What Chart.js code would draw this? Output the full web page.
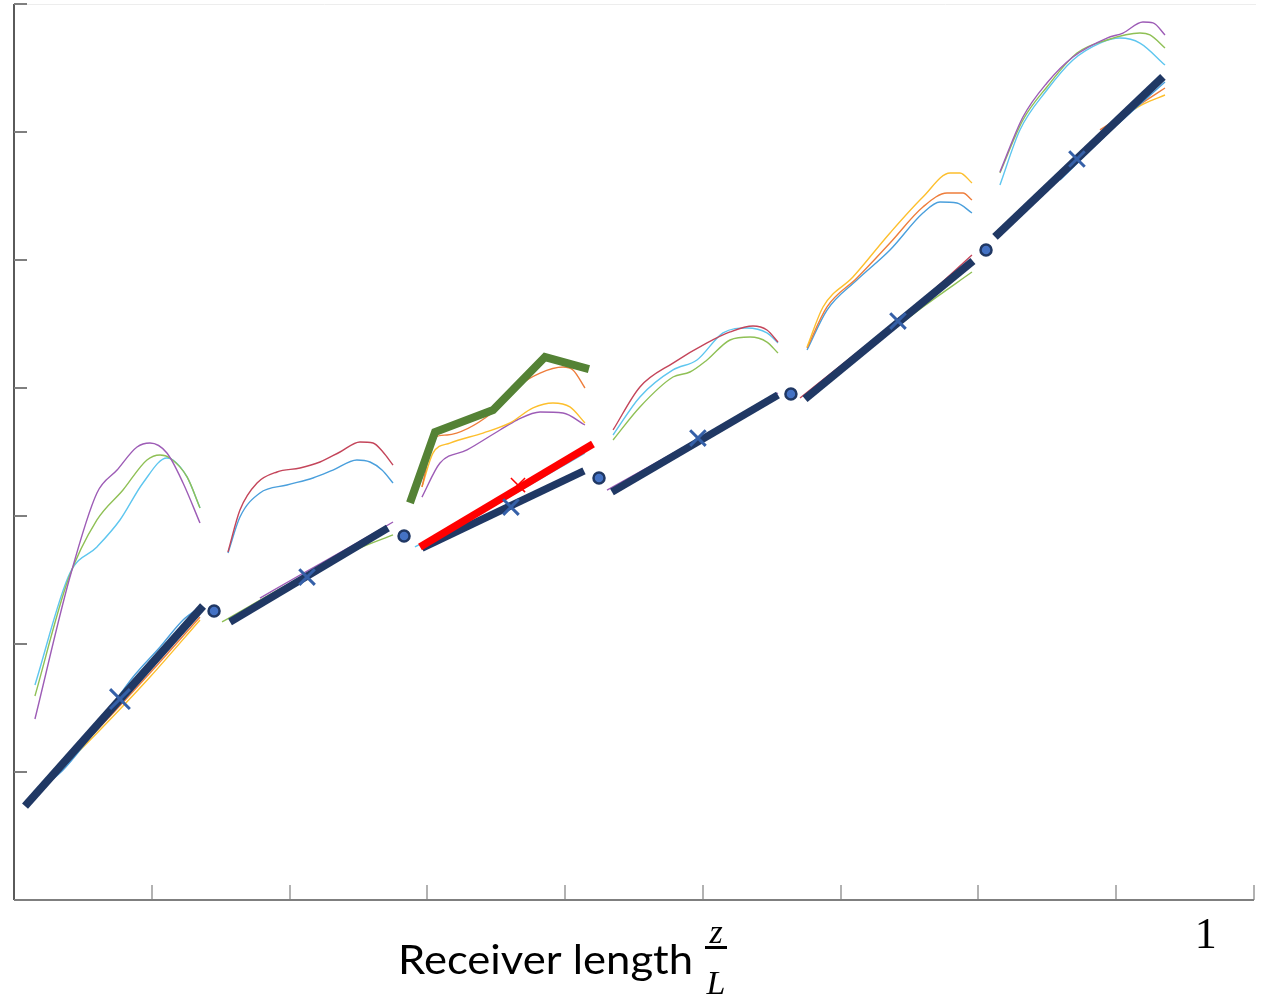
<!DOCTYPE html>
<html>
<head>
<meta charset="utf-8">
<script src="https://cdn.jsdelivr.net/npm/chart.js@4/dist/chart.umd.min.js"></script>
<style>
html,body{margin:0;padding:0;background:#fff;}
#wrap{width:1265px;height:997px;position:relative;}
</style>
</head>
<body>
<div id="wrap"><canvas id="c" width="1265" height="997"></canvas></div>
<script>
// ---- axis ticks (data units) ----
const xTicks = [1,2,3,4,5,6,7,8,9];
const yTicks = [1,2,3,4,5,6,7];
const xLabelOne = 8.65;   // position of the "1" label along x

// ---- thick model segments (navy) ----
const navy1 = [[0.080,0.734],[1.372,2.297]];
const navy2 = [[1.568,2.172],[2.714,2.906]];
const navy3 = [[2.961,2.750],[4.137,3.352]];
const navy4 = [[4.340,3.188],[5.545,3.945]];
const navy5 = [[5.741,3.914],[6.960,4.992]];
const navy6 = [[7.120,5.180],[8.339,6.430]];

// ---- node dots ----
const nodeX = [1.452,2.831,4.246,5.639,7.055];
const nodeY = [2.258,2.844,3.297,3.953,5.078];

// ---- X markers ----
const crossX = [0.769,2.127,3.607,4.964,6.416,7.715];
const crossY = [1.570,2.523,3.070,3.609,4.523,5.789];

// ---- red segment + red marker ----
const redSeg = [[2.947,2.758],[4.202,3.563]];
const redCross = [[3.658,3.242]];

// ---- green thick polyline ----
const greenPoly = [[2.874,3.102],[3.056,3.656],[3.477,3.828],[3.854,4.242],[4.173,4.148]];

// ---- thin curves, section 1 ----
const s1Purple = [[0.152,1.414],[0.406,2.523],[0.602,3.180],[0.748,3.359],[0.893,3.539],[0.987,3.570],[1.110,3.492],[1.227,3.258],[1.350,2.945]];
const s1Green  = [[0.152,1.594],[0.392,2.500],[0.602,2.969],[0.791,3.203],[0.965,3.438],[1.060,3.477],[1.132,3.453],[1.256,3.305],[1.350,3.063]];
const s1Cyan   = [[0.152,1.680],[0.406,2.555],[0.602,2.758],[0.769,2.969],[0.936,3.258],[1.110,3.453],[1.154,3.438],[1.256,3.305],[1.350,3.063]];
const s1Blue   = [[0.210,0.883],[0.356,1.016],[0.552,1.273],[0.864,1.742],[1.060,1.977],[1.227,2.188],[1.350,2.289]];
const s1Orange = [[0.116,0.805],[0.624,1.352],[0.987,1.773],[1.350,2.211]];
const s1Yellow = [[0.116,0.781],[0.624,1.328],[0.987,1.742],[1.350,2.188]];

// ---- section 2 ----
const s2Crimson = [[1.553,2.719],[1.640,3.047],[1.764,3.258],[1.909,3.344],[2.076,3.375],[2.221,3.422],[2.366,3.500],[2.511,3.578],[2.606,3.570],[2.678,3.500],[2.751,3.398]];
const s2Blue    = [[1.553,2.711],[1.640,2.992],[1.785,3.180],[1.981,3.242],[2.170,3.297],[2.315,3.359],[2.489,3.438],[2.584,3.422],[2.671,3.359],[2.751,3.258]];
const s2Purple  = [[1.785,2.359],[2.076,2.539],[2.439,2.758],[2.751,2.953]];
const s2Green   = [[1.510,2.172],[2.076,2.516],[2.511,2.750],[2.751,2.852]];

// ---- section 3 ----
const s3Orange = [[2.961,3.227],[3.056,3.617],[3.143,3.633],[3.469,3.805],[3.651,4.008],[3.818,4.117],[3.985,4.164],[4.057,4.141],[4.144,4.000]];
const s3Yellow = [[2.961,3.227],[3.041,3.492],[3.164,3.570],[3.404,3.648],[3.600,3.727],[3.767,3.844],[3.912,3.883],[4.035,3.852],[4.144,3.727]];
const s3Purple = [[2.961,3.148],[3.092,3.414],[3.288,3.516],[3.527,3.672],[3.651,3.750],[3.818,3.813],[3.985,3.805],[4.144,3.711]];
const s3Cyan   = [[2.910,2.758],[3.527,3.109],[4.144,3.492]];

// ---- section 4 ----
const s4Crimson = [[4.348,3.672],[4.543,4.008],[4.783,4.195],[5.030,4.352],[5.197,4.438],[5.364,4.484],[5.465,4.453],[5.545,4.359]];
const s4Cyan    = [[4.348,3.633],[4.543,3.930],[4.783,4.141],[4.957,4.219],[5.146,4.430],[5.320,4.469],[5.465,4.430],[5.545,4.352]];
const s4Green   = [[4.348,3.594],[4.543,3.852],[4.783,4.086],[4.906,4.125],[5.030,4.219],[5.197,4.375],[5.342,4.398],[5.465,4.359],[5.545,4.273]];
const s4Purple  = [[4.304,3.203],[4.979,3.609],[5.545,3.961]];
const s4Yellow  = [[4.979,3.594],[5.545,3.930]];

// ---- section 5 ----
const s5Yellow  = [[5.756,4.320],[5.872,4.633],[6.089,4.867],[6.358,5.211],[6.597,5.492],[6.794,5.680],[6.866,5.680],[6.953,5.602]];
const s5Orange  = [[5.756,4.313],[5.901,4.633],[6.118,4.859],[6.358,5.133],[6.597,5.414],[6.772,5.523],[6.888,5.523],[6.953,5.469]];
const s5Blue    = [[5.756,4.297],[5.901,4.609],[6.118,4.844],[6.358,5.078],[6.597,5.367],[6.721,5.453],[6.844,5.445],[6.953,5.367]];
const s5Crimson = [[5.705,3.922],[6.648,4.742],[6.953,5.039]];
const s5Green   = [[5.944,4.086],[6.597,4.633],[6.953,4.906]];

// ---- section 6 ----
const s6Purple = [[7.156,5.688],[7.323,6.117],[7.497,6.383],[7.686,6.586],[7.933,6.734],[8.049,6.773],[8.194,6.859],[8.267,6.852],[8.354,6.758]];
const s6Green  = [[7.156,5.680],[7.323,6.094],[7.497,6.352],[7.715,6.617],[7.933,6.719],[8.172,6.773],[8.245,6.758],[8.354,6.656]];
const s6Cyan   = [[7.156,5.586],[7.301,6.016],[7.497,6.328],[7.686,6.563],[7.882,6.695],[8.027,6.734],[8.172,6.695],[8.354,6.523]];
const s6Blue   = [[7.592,5.625],[8.000,6.050],[8.354,6.391]];
const s6Orange = [[7.882,6.016],[8.150,6.200],[8.354,6.344]];
const s6Yellow = [[8.027,6.109],[8.200,6.220],[8.354,6.289]];

// ---- colours ----
const C = {
  purple:'#9d5cb6', green:'#8fc055', cyan:'#5ec6ef', crimson:'#c4455a',
  blue:'#4a9fdc', orange:'#ee7d3b', yellow:'#fdbf2d',
  navy:'#203864', red:'#ff0000', olive:'#548235', mark:'#3560a8', dot:'#4472c4'
};

const pts = a => a.map(([x,y]) => ({x, y}));
function thin(arr, color){
  return {data: pts(arr), showLine:true, borderColor:color, borderWidth:1.4,
    pointRadius:0, tension:0.4, cubicInterpolationMode:'monotone', order:10, clip:false};
}
function thick(arr, color, w, order){
  return {data: pts(arr), showLine:true, borderColor:color, borderWidth:w,
    pointRadius:0, tension:0, order:order, clip:false, borderCapStyle:'butt', borderJoinStyle:'miter'};
}

const datasets = [
  thin(s1Purple,C.purple), thin(s1Green,C.green), thin(s1Cyan,C.cyan),
  thin(s1Blue,C.blue), thin(s1Orange,C.orange), thin(s1Yellow,C.yellow),
  thin(s2Crimson,C.crimson), thin(s2Blue,C.blue), thin(s2Purple,C.purple), thin(s2Green,C.green),
  thin(s3Orange,C.orange), thin(s3Yellow,C.yellow), thin(s3Purple,C.purple), thin(s3Cyan,C.cyan),
  thin(s4Crimson,C.crimson), thin(s4Cyan,C.cyan), thin(s4Green,C.green), thin(s4Purple,C.purple), thin(s4Yellow,C.yellow),
  thin(s5Yellow,C.yellow), thin(s5Orange,C.orange), thin(s5Blue,C.blue), thin(s5Crimson,C.crimson), thin(s5Green,C.green),
  thin(s6Purple,C.purple), thin(s6Green,C.green), thin(s6Cyan,C.cyan), thin(s6Blue,C.blue), thin(s6Orange,C.orange), thin(s6Yellow,C.yellow),
  thick(navy1,C.navy,8,6), thick(navy2,C.navy,7.5,6), thick(navy3,C.navy,7.5,6),
  thick(navy4,C.navy,7.5,6), thick(navy5,C.navy,8,6), thick(navy6,C.navy,8,6),
  thick(redSeg,C.red,7.5,5),
  thick(greenPoly,C.olive,8,5),
  {data: nodeX.map((x,i)=>({x, y:nodeY[i]})), showLine:false, pointRadius:5.5, pointBackgroundColor:C.dot,
   pointBorderColor:C.navy, pointBorderWidth:2.5, order:2, clip:false},
  {data: crossX.map((x,i)=>({x, y:crossY[i]})), showLine:false, pointStyle:'crossRot', pointRadius:[14,11,11,11,11,11],
   pointBorderColor:C.mark, pointBorderWidth:3, order:1, clip:false},
  {data: pts(redCross), showLine:false, pointStyle:'crossRot', pointRadius:10,
   pointBorderColor:C.red, pointBorderWidth:1.5, order:1, clip:false}
];

const frame = {
  id:'frame',
  beforeDatasetsDraw(chart){
    const {ctx, chartArea:a, scales:{x, y}} = chart;
    ctx.save();
    ctx.strokeStyle = '#ededed'; ctx.lineWidth = 1;
    ctx.beginPath(); ctx.moveTo(a.left, a.top+0.5); ctx.lineTo(a.right+2, a.top+0.5); ctx.stroke();
    ctx.strokeStyle = '#5a5a5a'; ctx.lineWidth = 2;
    ctx.beginPath(); ctx.moveTo(a.left, a.top); ctx.lineTo(a.left, a.bottom); ctx.stroke();
    ctx.strokeStyle = '#7f7f7f';
    ctx.beginPath(); ctx.moveTo(a.left, a.bottom); ctx.lineTo(a.right, a.bottom); ctx.stroke();
    ctx.strokeStyle = '#7f7f7f'; ctx.lineWidth = 2;
    yTicks.forEach(v => { const py = Math.round(y.getPixelForValue(v));
      ctx.beginPath(); ctx.moveTo(a.left, py); ctx.lineTo(a.left+13, py); ctx.stroke(); });
    ctx.lineWidth = 1.2;
    xTicks.forEach(v => { const px = Math.round(x.getPixelForValue(v));
      ctx.beginPath(); ctx.moveTo(px, a.bottom); ctx.lineTo(px, a.bottom-15); ctx.stroke(); });
    ctx.restore();
  },
  afterDraw(chart){
    const {ctx, scales:{x}} = chart;
    ctx.save();
    ctx.fillStyle = '#000';
    ctx.textBaseline = 'alphabetic';
    ctx.font = '41px Lato';
    const label = 'Receiver length';
    const w = ctx.measureText(label).width;
    ctx.translate(398, 974); ctx.scale(295/w, 1);
    ctx.textAlign = 'left'; ctx.fillText(label, 0, 0);
    ctx.setTransform(1,0,0,1,0,0);
    ctx.textAlign = 'center';
    ctx.font = 'italic 34px "Liberation Serif"';
    ctx.fillText('z', 716, 943);
    ctx.fillRect(705, 946, 22, 3);
    ctx.fillText('L', 716, 994);
    ctx.font = '44px "Liberation Serif"';
    ctx.fillText('1', x.getPixelForValue(xLabelOne), 948);
    ctx.restore();
  }
};

new Chart(document.getElementById('c'), {
  type:'scatter',
  data:{datasets},
  options:{
    responsive:false, animation:false,
    layout:{autoPadding:false, padding:{left:14, right:11, top:4, bottom:97}},
    plugins:{legend:{display:false}, tooltip:{enabled:false}},
    scales:{
      x:{type:'linear', min:0, max:9, display:false},
      y:{type:'linear', min:0, max:7, display:false}
    }
  },
  plugins:[frame]
});
</script>
</body>
</html>
